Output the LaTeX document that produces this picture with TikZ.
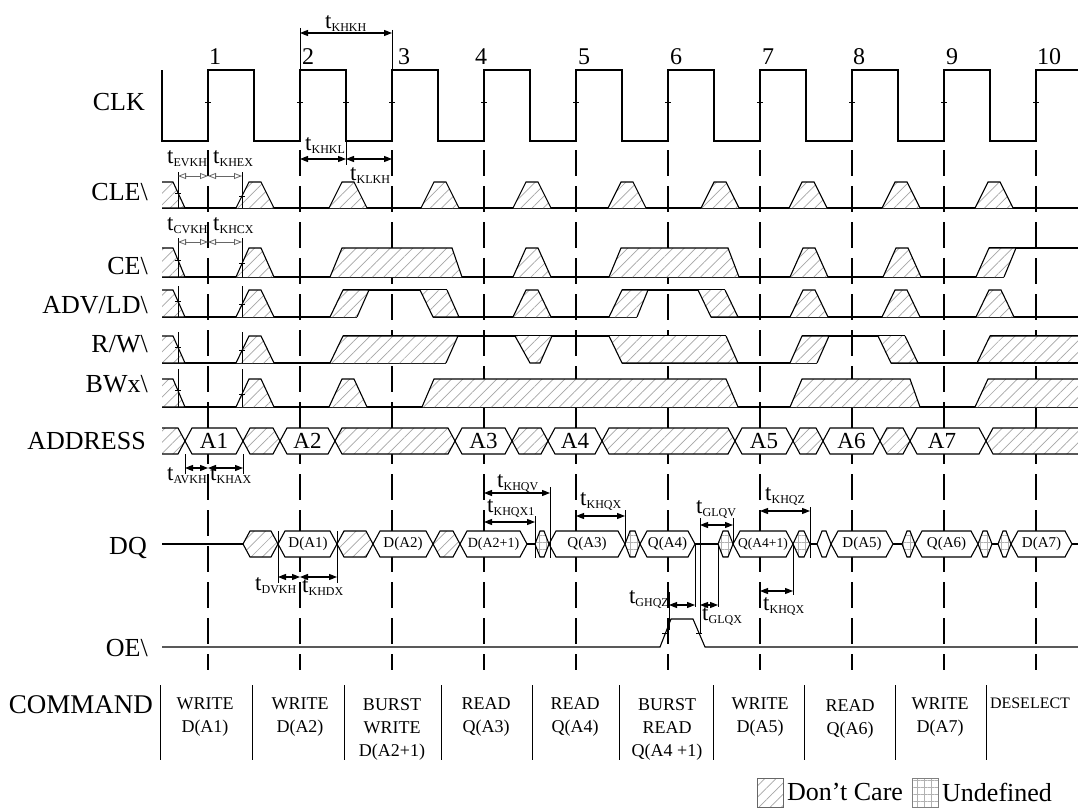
\documentclass[tikz,border=0pt]{standalone}
\usepackage{fontspec}
\setmainfont{Liberation Serif}
\usetikzlibrary{arrows.meta,patterns.meta}

\tikzset{
  sig/.style={line width=1.1pt,line join=miter},
  dc/.style={preaction={fill=white},pattern={Lines[angle=45,distance=8pt,line width=0.7pt]},pattern color=black!35},
  ud/.style={preaction={fill=white},pattern={Hatch[angle=0,distance=7pt,line width=0.7pt]},pattern color=black!30},
  clkdash/.style={line width=2.4pt,dash pattern=on 26pt off 10pt},
  tmark/.style={line width=0.6pt},
  tarr/.style={line width=1.1pt,{Triangle[length=8pt,width=6pt]}-{Triangle[length=8pt,width=6pt]}},
  tarro/.style={line width=0.8pt,draw=black!60,{Triangle[open,length=8pt,width=6pt]}-{Triangle[open,length=8pt,width=6pt]}},
  sname/.style={anchor=base east,inner sep=0pt,font=\fontsize{26}{26}\selectfont},
  tlab/.style={anchor=base west,inner sep=0pt},
  bustext/.style={inner sep=0pt,font=\fontsize{23}{23}\selectfont},
  dqtext/.style={inner sep=0pt,font=\fontsize{15}{15}\selectfont},
  cmd/.style={align=center,font=\fontsize{18}{23}\selectfont},
  clknum/.style={anchor=base west,inner sep=0pt,font=\fontsize{24}{24}\selectfont}
}

\newcommand{\tname}[1]{{\fontsize{23}{23}\selectfont t}\raisebox{-3pt}{\fontsize{12}{12}\selectfont #1}}
\newcommand{\pulse}[3]{\filldraw[sig,dc] ({#1-19},#3) -- ({#1-6},#2) -- ({#1+6},#2) -- ({#1+19},#3);}
\newcommand{\lead}[2]{\filldraw[sig,dc] (162,#1) -- (173,#1) -- (185,#2) -- (162,#2);}
\newcommand{\hexbus}[5][]{\filldraw[sig,fill=white,#1] (#2,#4) -- ({#2+#5},{#4-13}) -- ({#3-#5},{#4-13}) -- (#3,#4) -- ({#3-#5},{#4+13}) -- ({#2+#5},{#4+13}) -- cycle;}
\newcommand{\setmarks}[3]{%
  \draw[tmark] (178,#3) -- (178,#2);
  \draw[tmark] (242,#3) -- (242,#2);
  \draw[tmark] (175,{#1+5/12*(#2-#1)}) -- (181,{#1+5/12*(#2-#1)});
  \draw[tmark] (239,{#2-6/13*(#2-#1)}) -- (245,{#2-6/13*(#2-#1)});}

\begin{document}
\begin{tikzpicture}[x=1pt,y=-1pt,line cap=butt]
\useasboundingbox (0,0) rectangle (1078,808);

% clock and edge lines
\foreach \k in {0,...,9}
  \draw[clkdash] ({208+92*\k},150) -- ({208+92*\k},670);
\draw[sig] (162,70) -- (162,141)
  \foreach \k in {0,...,8} { -- ({208+92*\k},141) -- ({208+92*\k},70) -- ({254+92*\k},70) -- ({254+92*\k},141) }
  -- (1036,141) -- (1036,70) -- (1078,70);
\foreach \k in {0,...,9}
  \draw[tmark] ({205+92*\k},102) -- ({211+92*\k},102);
\draw[tmark] (343,102) -- (349,102);
\foreach \n/\x in {1/209,2/302,3/398,4/475,5/578,6/670,7/762,8/853,9/946,10/1037}
  \node[clknum] (n\n) at (\x,65) {\n};

% signal names
\node[sname] (clk) at (145,110) {CLK};
\node[sname] (cle) at (148,200) {CLE\textbackslash};
\node[sname] (ce) at (148,274) {CE\textbackslash};
\node[sname] (adv) at (148,313) {ADV/LD\textbackslash};
\node[sname] (rw) at (148,352) {R/W\textbackslash};
\node[sname] (bw) at (148,392) {BWx\textbackslash};
\node[sname] (addr) at (146,449) {ADDRESS};
\node[sname] (dq) at (147,554) {DQ};
\node[sname] (oe) at (148,656) {OE\textbackslash};
\node[sname,font=\fontsize{27}{27}\selectfont] (command) at (153,713) {COMMAND};

% CLE
\draw[sig] (162,208) -- (1078,208);
\lead{182}{208}
\foreach \c in {255,348,440,532,627,720,808,901,994} {\pulse{\c}{182}{208}}
\setmarks{182}{208}{172}

% CE
\draw[sig] (162,277) -- (1004,277);
\draw[sig] (989,248) -- (1078,248);
\lead{248}{277}
\foreach \c in {255,532,809,902} {\pulse{\c}{248}{277}}
\filldraw[sig,dc] (330,277) -- (342,248) -- (452,248) -- (462,277);
\filldraw[sig,dc] (609,277) -- (621,248) -- (728,248) -- (739,277);
\filldraw[sig,dc] (976,277) -- (989,248) -- (1016,248) -- (1004,277);
\setmarks{248}{277}{238}

% ADV/LD
\draw[sig] (162,317) -- (357,317);
\draw[sig] (343,290) -- (447,290);
\draw[sig] (433,317) -- (637,317);
\draw[sig] (622,290) -- (725,290);
\draw[sig] (711,317) -- (1078,317);
\lead{290}{317}
\foreach \c in {255,532,809,901,995} {\pulse{\c}{290}{317}}
\filldraw[sig,dc] (330,317) -- (343,290) -- (369,290) -- (357,317);
\filldraw[sig,dc] (420,290) -- (433,317) -- (459,317) -- (447,290);
\filldraw[sig,dc] (609,317) -- (622,290) -- (648,290) -- (637,317);
\filldraw[sig,dc] (698,290) -- (711,317) -- (738,317) -- (725,290);
\setmarks{290}{317}{286}

% R/W
\draw[sig] (162,363) -- (446,363);
\draw[sig] (343,336) -- (726,336);
\draw[sig] (622,363) -- (817,363);
\draw[sig] (802,336) -- (905,336);
\draw[sig] (891,363) -- (1078,363);
\draw[sig] (990,336) -- (1078,336);
\lead{336}{363}
\pulse{255}{336}{363}
\filldraw[sig,dc] (330,363) -- (343,336) -- (458,336) -- (446,363);
\filldraw[sig,dc] (515,336) -- (530,363) -- (540,363) -- (552,336);
\filldraw[sig,dc] (609,336) -- (622,363) -- (738,363) -- (726,336);
\filldraw[sig,dc] (790,363) -- (802,336) -- (829,336) -- (817,363);
\filldraw[sig,dc] (878,336) -- (891,363) -- (918,363) -- (905,336);
\fill[dc] (977,363) -- (990,336) -- (1078,336) -- (1078,363) -- cycle;
\draw[sig] (977,363) -- (990,336) -- (1078,336);
\draw[sig] (977,363) -- (1078,363);
\setmarks{336}{363}{332}

% BWx
\draw[sig] (162,407) -- (1078,407);
\lead{379}{407}
\foreach \c in {255,348} {\pulse{\c}{379}{407}}
\filldraw[sig,dc] (422,407) -- (434,379) -- (726,379) -- (738,407);
\filldraw[sig,dc] (790,407) -- (802,379) -- (910,379) -- (920,407);
\fill[dc] (975,407) -- (988,379) -- (1078,379) -- (1078,407) -- cycle;
\draw[sig] (975,407) -- (988,379) -- (1078,379);
\setmarks{379}{407}{369}

% ADDRESS
\filldraw[sig,dc] (162,428) -- (178,428) -- (185,441) -- (178,454) -- (162,454);
\hexbus{185}{243}{441}{7}
\hexbus[dc]{243}{280}{441}{7}
\hexbus{280}{335}{441}{7}
\hexbus[dc]{335}{455}{441}{7}
\hexbus{455}{512}{441}{7}
\hexbus[dc]{512}{548}{441}{7}
\hexbus{548}{602}{441}{7}
\hexbus[dc]{602}{735}{441}{7}
\hexbus{735}{793}{441}{7}
\hexbus[dc]{793}{823}{441}{7}
\hexbus{823}{880}{441}{7}
\hexbus[dc]{880}{910}{441}{7}
\hexbus{910}{986}{441}{7}
\filldraw[sig,dc] (1078,428) -- (993,428) -- (986,441) -- (993,454) -- (1078,454);
\node[bustext] (a1) at (214,441) {A1};
\node[bustext] (a2) at (307.5,441) {A2};
\node[bustext] (a3) at (483.5,441) {A3};
\node[bustext] (a4) at (575,441) {A4};
\node[bustext] (a5) at (764,441) {A5};
\node[bustext] (a6) at (851.5,441) {A6};
\node[bustext] (a7) at (942,441) {A7};

% DQ
\draw[sig] (162,544) -- (243,544);
\draw[sig] (527,544) -- (535,544);
\draw[sig] (695,544) -- (718,544);
\draw[sig] (810,544) -- (817,544);
\draw[sig] (893,544) -- (902,544);
\draw[sig] (992,544) -- (998,544);
\draw[sig] (1072,544) -- (1078,544);
\hexbus[dc]{243}{278}{544}{7}
\hexbus{278}{337}{544}{7}
\hexbus[dc]{337}{373}{544}{7}
\hexbus{373}{433}{544}{7}
\hexbus[dc]{433}{460}{544}{7}
\hexbus{460}{527}{544}{7}
\hexbus[ud]{535}{549}{544}{5}
\hexbus{549}{625}{544}{7}
\hexbus[ud]{625}{640}{544}{5}
\hexbus{640}{695}{544}{7}
\hexbus[ud]{718}{733}{544}{5}
\hexbus{733}{793}{544}{7}
\hexbus[ud]{793}{810}{544}{6}
\hexbus{817}{831}{544}{5}
\hexbus{831}{893}{544}{7}
\hexbus[ud]{902}{915}{544}{5}
\hexbus{915}{978}{544}{7}
\hexbus[ud]{978}{992}{544}{5}
\hexbus[ud]{998}{1011}{544}{5}
\hexbus{1011}{1072}{544}{7}
\node[dqtext] (da1) at (308,544) {D(A1)};
\node[dqtext] (da2) at (403,544) {D(A2)};
\node[dqtext,font=\fontsize{14}{14}\selectfont] (da21) at (493.5,544) {D(A2+1)};
\node[dqtext] (qa3) at (587,544) {Q(A3)};
\node[dqtext] (qa4) at (667.5,544) {Q(A4)};
\node[dqtext,font=\fontsize{13.5}{13.5}\selectfont] (qa41) at (763,544) {Q(A4+1)};
\node[dqtext] (da5) at (862,544) {D(A5)};
\node[dqtext] (qa6) at (946.5,544) {Q(A6)};
\node[dqtext] (da7) at (1041.5,544) {D(A7)};

% OE
\draw[sig] (162,647) -- (660,647) -- (671,619) -- (693,619) -- (705,647) -- (1078,647);
\draw[tmark] (662,633) -- (669,633);
\draw[tmark] (696,633) -- (702,633);

% timing
\draw[tmark] (300,28) -- (300,70);
\draw[tmark] (392,30) -- (392,70);
\draw[tarr] (300,33) -- (392,33);
\node[tlab] (tkhkh) at (325,29) {\tname{KHKH}};
\draw[tmark] (346,141) -- (346,165);
\draw[tarr] (300,159) -- (346,159);
\draw[tarr] (346,159) -- (392,159);
\node[tlab] (tkhkl) at (305,150) {\tname{KHKL}};
\node[tlab] (tklkh) at (350,180) {\tname{KLKH}};
\draw[tarro] (178,176) -- (208,176);
\draw[tarro] (208,176) -- (242,176);
\node[tlab] (tevkh) at (167,163) {\tname{EVKH}};
\node[tlab] (tkhex) at (213,163) {\tname{KHEX}};
\draw[tarro] (178,242) -- (208,242);
\draw[tarro] (208,242) -- (242,242);
\node[tlab] (tcvkh) at (167,230) {\tname{CVKH}};
\node[tlab] (tkhcx) at (213,230) {\tname{KHCX}};
\draw[tmark] (185,454) -- (185,474);
\draw[tmark] (243,454) -- (243,474);
\draw[tarr] (185,468) -- (208,468);
\draw[tarr] (208,468) -- (243,468);
\node[tlab] (tavkh) at (167,480) {\tname{AVKH}};
\node[tlab] (tkhax) at (210,480) {\tname{KHAX}};
\draw[tmark] (278,531) -- (278,583);
\draw[tmark] (337,531) -- (337,583);
\draw[tarr] (278,577) -- (300,577);
\draw[tarr] (300,577) -- (337,577);
\node[tlab] (tdvkh) at (255,590) {\tname{DVKH}};
\node[tlab] (tkhdx) at (302,592) {\tname{KHDX}};
\draw[tmark] (550,487) -- (550,558);
\draw[tarr] (484,493) -- (550,493);
\node[tlab] (tkhqv) at (497,487) {\tname{KHQV}};
\draw[tmark] (535,516) -- (535,558);
\draw[tarr] (484,522) -- (535,522);
\node[tlab] (tkhqxa) at (487,512) {\tname{KHQX1}};
\draw[tmark] (625,510) -- (625,544);
\draw[tarr] (576,516) -- (625,516);
\node[tlab] (tkhqx) at (580,505) {\tname{KHQX}};
\draw[tmark] (700,518) -- (700,633);
\draw[tmark] (733,518) -- (733,544);
\draw[tarr] (700,525) -- (733,525);
\node[tlab] (tglqv) at (696,513) {\tname{GLQV}};
\draw[tmark] (810,507) -- (810,558);
\draw[tarr] (760,511) -- (810,511);
\node[tlab] (tkhqz) at (765,500) {\tname{KHQZ}};
\draw[tmark] (669,592) -- (669,630);
\draw[tmark] (695,544) -- (695,607);
\draw[tmark] (718,544) -- (718,607);
\draw[tarr] (669,605) -- (695,605);
\draw[tarr] (700,605) -- (718,605);
\node[tlab,anchor=base east] (tghqz) at (669,603) {\tname{GHQZ}};
\node[tlab] (tglqx) at (702,620) {\tname{GLQX}};
\draw[tmark] (793,544) -- (793,595);
\draw[tarr] (760,591) -- (793,591);
\node[tlab] (tkhqxb) at (763,610) {\tname{KHQX}};

% commands
\foreach \x in {160,252,344,441,532,619,713,804,895,986}
  \draw[line width=1pt] (\x,685) -- (\x,760);
\node[cmd] (c1) at (205,717) {WRITE\\D(A1)};
\node[cmd] (c2) at (300,717) {WRITE\\D(A2)};
\node[cmd] (c3) at (392,729) {BURST\\WRITE\\D(A2+1)};
\node[cmd] (c4) at (486,717) {READ\\Q(A3)};
\node[cmd] (c5) at (575,717) {READ\\Q(A4)};
\node[cmd] (c6) at (667,729) {BURST\\READ\\Q(A4 +1)};
\node[cmd] (c7) at (760,717) {WRITE\\D(A5)};
\node[cmd] (c8) at (850,719) {READ\\Q(A6)};
\node[cmd] (c9) at (940,717) {WRITE\\D(A7)};
\node[cmd,font=\fontsize{16}{16}\selectfont] (c10) at (1030,703) {DESELECT};

% legend
\filldraw[dc,draw=black!60,line width=0.6pt] (757,778) rectangle (783,807);
\node[anchor=west,inner sep=0pt,font=\fontsize{26}{26}\selectfont] (dcare) at (787,792) {Don’t Care};
\filldraw[ud,draw=black!50,line width=0.6pt] (912,778) rectangle (938,807);
\node[anchor=west,inner sep=0pt,font=\fontsize{26}{26}\selectfont] (undef) at (942,792) {Undefined};
\end{tikzpicture}
\end{document}
